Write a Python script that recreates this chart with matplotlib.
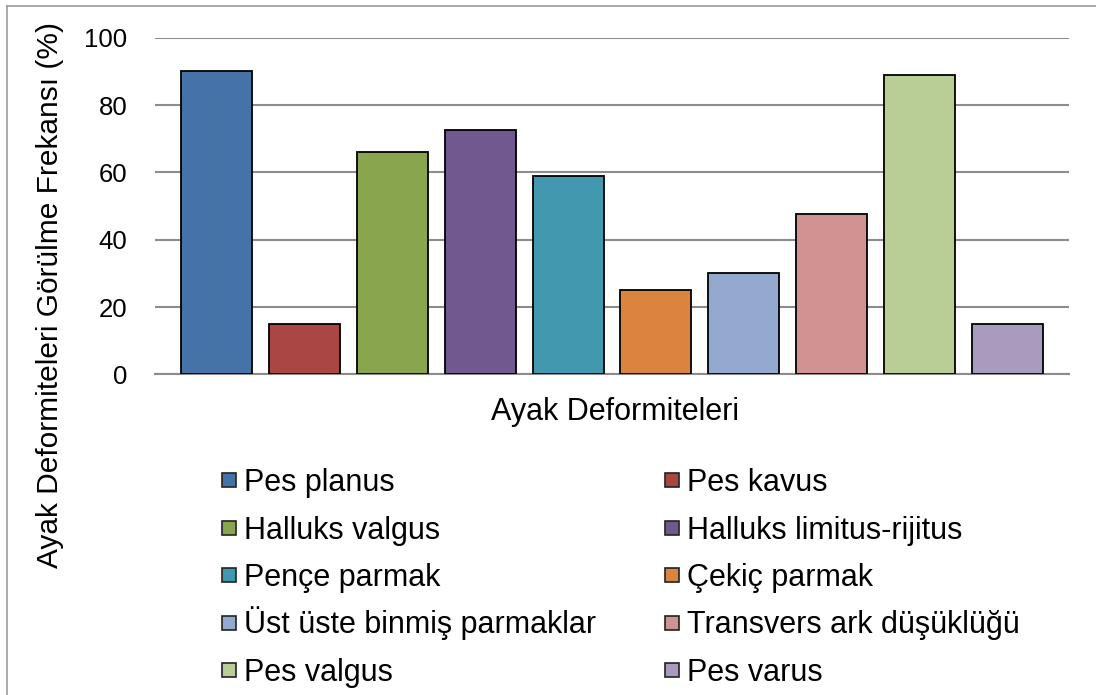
import numpy as np
import matplotlib
matplotlib.use("Agg")
import matplotlib.pyplot as plt
from matplotlib.patches import Rectangle
from matplotlib.lines import Line2D

plt.rcParams['font.family'] = ['Liberation Sans', 'DejaVu Sans']

categories = ["Pes planus", "Pes kavus", "Halluks valgus", "Halluks limitus-rijitus",
              "Pençe parmak", "Çekiç parmak", "Üst üste binmiş parmaklar",
              "Transvers ark düşüklüğü", "Pes valgus", "Pes varus"]
values = [90, 15, 66, 72.6, 58.9, 25.2, 30.1, 47.6, 89, 15.1]
colors = ["#4572A7", "#AA4643", "#89A54E", "#71588F", "#4198AF",
          "#DB843D", "#93A9CF", "#D19392", "#B9CD96", "#A99BBD"]
yticks = [0, 20, 40, 60, 80, 100]

W, H = 1096, 695
fig = plt.figure(figsize=(W / 100, H / 100), dpi=100)
ax = fig.add_axes([155 / W, 1 - 374.4 / H, (1069 - 155) / W, (374.4 - 37.7) / H])

x = np.arange(len(values))
ax.bar(x, values, width=0.808, color=colors, edgecolor="black", linewidth=1.3, zorder=3)

ax.set_xlim(-0.7, 9.7)
ax.set_ylim(0, 100)
ax.set_yticks(yticks)
ax.set_xticks([])
ax.yaxis.grid(True, color="#8c8c8c", linewidth=1.5, zorder=0)
ax.tick_params(axis="y", length=0, pad=20, labelsize=18.5)
for s in ["top", "right", "left"]:
    ax.spines[s].set_visible(False)
ax.spines["bottom"].set_color("#8c8c8c")
ax.spines["bottom"].set_linewidth(1.5)

fig.text(615 / W, 1 - 412 / H, "Ayak Deformiteleri", ha="center", va="center", fontsize=22)
fig.text(50 / W, 1 - 295 / H, "Ayak Deformiteleri Görülme Frekansı (%)", ha="center",
         va="center", rotation=90, fontsize=21.5)

# legend, two columns read row by row (pixel layout)
col_x = [222, 665]
row_y0, row_step = 480, 47.5
msize = 14
for i, (lab, c) in enumerate(zip(categories, colors)):
    r, k = divmod(i, 2)
    yc = row_y0 + r * row_step
    x0 = col_x[k]
    fig.add_artist(Rectangle((x0 / W, 1 - (yc + msize / 2) / H), msize / W, msize / H,
                             facecolor=c, edgecolor="#222222", linewidth=1.2,
                             transform=fig.transFigure))
    fig.text((x0 + msize + 8) / W, 1 - (yc + 11) / H, lab, ha="left", va="baseline",
             fontsize=22)

# outer chart border (left and top visible)
fig.add_artist(Line2D([7 / W, 7 / W], [0, 1 - 6 / H], color="#9a9a9a", linewidth=1.2))
fig.add_artist(Line2D([7 / W, 1], [1 - 6 / H, 1 - 6 / H], color="#9a9a9a", linewidth=1.2))

fig.savefig("out.png", dpi=100)
